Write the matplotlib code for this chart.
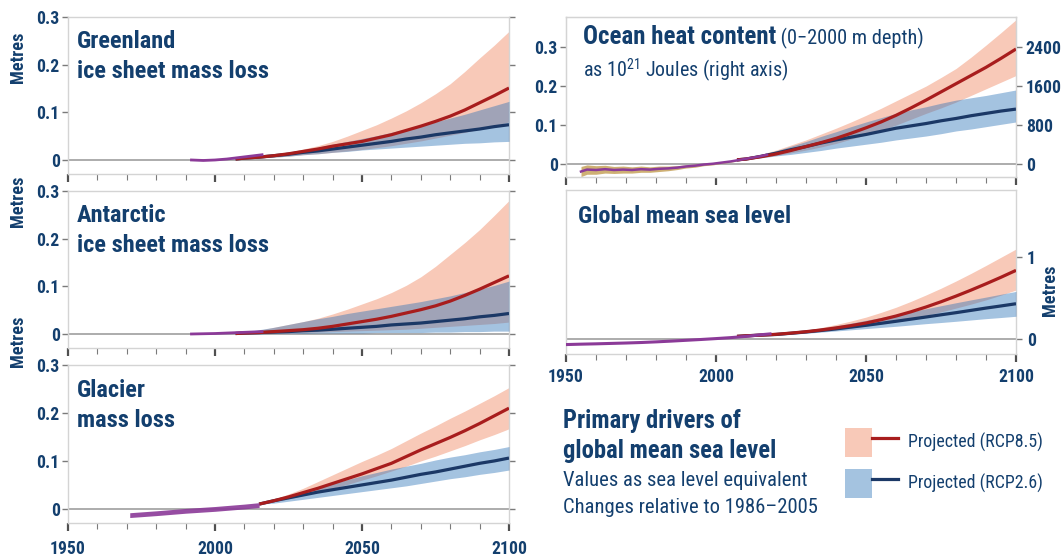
import matplotlib
matplotlib.use("Agg")
import matplotlib.pyplot as plt
from matplotlib import font_manager as fm
from matplotlib.patches import Patch
from matplotlib.lines import Line2D
from matplotlib.legend_handler import HandlerTuple
from matplotlib.ticker import MultipleLocator


# ---------------------------------------------------------------- fonts
def pick_font():
    """Prefer a narrow sans face; fall back to a regular one."""
    entries = fm.fontManager.ttflist
    names = {e.name for e in entries}
    for pref in ("Liberation Sans Narrow", "Arial Narrow", "Roboto Condensed",
                 "Noto Sans Condensed", "Open Sans Condensed", "DejaVu Sans Condensed"):
        if pref in names:
            return pref, "normal"
    for e in entries:
        n = e.name
        if ("Narrow" in n or "Condensed" in n) and not any(k in n for k in ("Extra", "Semi", "Mono", "Serif")):
            return n, "normal"
    for e in entries:
        if e.stretch == "condensed" and e.name in ("DejaVu Sans", "Noto Sans", "Open Sans", "Roboto"):
            return e.name, "condensed"
    return "Liberation Sans", "normal"


FONT, STRETCH = pick_font()
plt.rcParams["font.family"] = [FONT, "DejaVu Sans"]
plt.rcParams["font.stretch"] = STRETCH
plt.rcParams["mathtext.fontset"] = "custom"
plt.rcParams["mathtext.rm"] = FONT

# ---------------------------------------------------------------- data
XTICKS = [1950, 2000, 2050, 2100]
YTICKS_SMALL = [0, 0.1, 0.2, 0.3]
YTICK_LABELS_SMALL = ["0", "0.1", "0.2", "0.3"]
OHC_TICKS = [0, 800, 1600, 2400]           # 10^21 J
OHC_PER_METRE = 8000                          # 800 x 10^21 J  <->  0.1 m
GMSL_TICKS = [0, 1]

proj_years = [2007, 2010, 2015, 2020, 2025, 2030, 2035, 2040, 2045, 2050,
              2055, 2060, 2065, 2070, 2075, 2080, 2085, 2090, 2095, 2100]
glacier_proj_years = [2015, 2020, 2025, 2030, 2035, 2040, 2045, 2050, 2055,
                      2060, 2065, 2070, 2075, 2080, 2085, 2090, 2095, 2100]

# Greenland ice sheet (m sea level equivalent)
gr_obs_years = [1992, 1996, 2000, 2004, 2008, 2012, 2016]
gr_obs = [0.000, -0.001, 0.000, 0.002, 0.005, 0.008, 0.011]
gr85_med = [0.002, 0.004, 0.006, 0.009, 0.013, 0.018, 0.023, 0.029, 0.034, 0.039,
            0.046, 0.053, 0.062, 0.071, 0.081, 0.092, 0.105, 0.120, 0.135, 0.151]
gr85_lo = [0.002, 0.003, 0.004, 0.006, 0.008, 0.011, 0.013, 0.016, 0.019, 0.022,
           0.026, 0.030, 0.035, 0.040, 0.046, 0.052, 0.058, 0.065, 0.072, 0.080]
gr85_hi = [0.002, 0.005, 0.008, 0.011, 0.016, 0.023, 0.030, 0.039, 0.050, 0.062,
           0.074, 0.088, 0.103, 0.120, 0.139, 0.160, 0.186, 0.214, 0.241, 0.270]
gr26_med = [0.002, 0.004, 0.006, 0.009, 0.012, 0.016, 0.019, 0.023, 0.027, 0.031,
            0.035, 0.039, 0.044, 0.048, 0.053, 0.057, 0.061, 0.065, 0.070, 0.074]
gr26_lo = [0.002, 0.003, 0.004, 0.006, 0.008, 0.011, 0.013, 0.016, 0.018, 0.021,
           0.023, 0.025, 0.027, 0.029, 0.031, 0.033, 0.035, 0.036, 0.038, 0.039]
gr26_hi = [0.002, 0.005, 0.008, 0.012, 0.017, 0.022, 0.027, 0.033, 0.039, 0.045,
           0.051, 0.058, 0.065, 0.072, 0.080, 0.088, 0.096, 0.105, 0.114, 0.123]

# Antarctic ice sheet
an_obs_years = [1992, 1996, 2000, 2004, 2008, 2012, 2016]
an_obs = [0.000, 0.0005, 0.001, 0.002, 0.003, 0.004, 0.005]
an85_med = [0.001, 0.002, 0.003, 0.005, 0.007, 0.009, 0.012, 0.016, 0.021, 0.026,
            0.031, 0.037, 0.044, 0.051, 0.059, 0.069, 0.081, 0.094, 0.108, 0.122]
an85_lo = [0.000, 0.001, 0.001, 0.002, 0.002, 0.003, 0.004, 0.005, 0.006, 0.007,
           0.008, 0.009, 0.010, 0.012, 0.014, 0.016, 0.018, 0.020, 0.022, 0.025]
an85_hi = [0.001, 0.003, 0.008, 0.014, 0.020, 0.026, 0.033, 0.042, 0.052, 0.063,
           0.074, 0.087, 0.102, 0.120, 0.142, 0.167, 0.192, 0.219, 0.249, 0.280]
an26_med = [0.001, 0.002, 0.003, 0.004, 0.005, 0.007, 0.008, 0.010, 0.012, 0.014,
            0.016, 0.019, 0.021, 0.023, 0.026, 0.029, 0.032, 0.036, 0.039, 0.043]
an26_lo = [0.000, 0.000, 0.000, 0.001, 0.001, 0.001, 0.002, 0.002, 0.002, 0.002,
           0.003, 0.003, 0.003, 0.003, 0.004, 0.004, 0.005, 0.005, 0.006, 0.006]
an26_hi = [0.001, 0.004, 0.009, 0.014, 0.020, 0.026, 0.032, 0.037, 0.043, 0.048,
           0.053, 0.058, 0.063, 0.068, 0.074, 0.080, 0.087, 0.094, 0.102, 0.111]

# Glaciers
gl_obs_years = [1971, 1980, 1990, 2000, 2010, 2015]
gl_obs = [-0.013, -0.009, -0.004, 0.000, 0.005, 0.008]
gl_obs_halfwidth = 0.005
gl85_med = [0.010, 0.017, 0.025, 0.034, 0.043, 0.053, 0.063, 0.073, 0.084,
            0.095, 0.109, 0.123, 0.136, 0.149, 0.163, 0.178, 0.194, 0.210]
gl85_lo = [0.010, 0.015, 0.021, 0.028, 0.035, 0.043, 0.051, 0.060, 0.069,
           0.079, 0.089, 0.100, 0.110, 0.121, 0.132, 0.144, 0.155, 0.167]
gl85_hi = [0.010, 0.020, 0.031, 0.043, 0.057, 0.071, 0.085, 0.099, 0.112,
           0.126, 0.142, 0.158, 0.173, 0.189, 0.204, 0.220, 0.236, 0.253]
gl26_med = [0.010, 0.017, 0.023, 0.029, 0.035, 0.040, 0.045, 0.050, 0.055,
            0.060, 0.066, 0.072, 0.077, 0.083, 0.089, 0.095, 0.100, 0.106]
gl26_lo = [0.010, 0.012, 0.016, 0.020, 0.024, 0.028, 0.032, 0.036, 0.040,
           0.044, 0.048, 0.053, 0.058, 0.063, 0.067, 0.072, 0.076, 0.081]
gl26_hi = [0.010, 0.019, 0.028, 0.036, 0.045, 0.053, 0.061, 0.069, 0.076,
           0.083, 0.089, 0.095, 0.102, 0.108, 0.113, 0.119, 0.124, 0.130]

# Ocean heat content (expressed as m sea level equivalent on the left axis)
oh_obs_years = [1955, 1957, 1960, 1963, 1966, 1969, 1972, 1975, 1978, 1981, 1984,
                1987, 1990, 1993, 1996, 1999, 2002, 2005, 2008, 2011, 2014, 2017]
oh_obs = [-0.019, -0.014, -0.015, -0.013, -0.015, -0.014, -0.015, -0.013, -0.014, -0.012, -0.011,
          -0.009, -0.006, -0.004, -0.001, 0.001, 0.004, 0.007, 0.011, 0.015, 0.019, 0.024]
oh_obs_unc = [0.013, 0.012, 0.011, 0.010, 0.009, 0.009, 0.008, 0.008, 0.007, 0.007, 0.006,
              0.005, 0.004, 0.004, 0.003, 0.003, 0.002, 0.002, 0.002, 0.002, 0.002, 0.002]
oh85_med = [0.011, 0.013, 0.019, 0.026, 0.035, 0.045, 0.055, 0.066, 0.079, 0.093,
            0.108, 0.125, 0.144, 0.164, 0.185, 0.206, 0.227, 0.248, 0.271, 0.295]
oh85_lo = [0.011, 0.012, 0.017, 0.022, 0.029, 0.036, 0.044, 0.053, 0.064, 0.075,
           0.087, 0.100, 0.115, 0.130, 0.144, 0.159, 0.176, 0.193, 0.210, 0.227]
oh85_hi = [0.011, 0.015, 0.025, 0.036, 0.049, 0.062, 0.077, 0.092, 0.108, 0.125,
           0.143, 0.162, 0.181, 0.200, 0.222, 0.245, 0.274, 0.305, 0.337, 0.370]
oh26_med = [0.011, 0.013, 0.020, 0.028, 0.037, 0.045, 0.054, 0.062, 0.069, 0.076,
            0.084, 0.092, 0.098, 0.104, 0.111, 0.117, 0.124, 0.130, 0.136, 0.141]
oh26_lo = [0.011, 0.012, 0.016, 0.021, 0.025, 0.030, 0.035, 0.041, 0.046, 0.051,
           0.056, 0.062, 0.067, 0.072, 0.078, 0.085, 0.090, 0.096, 0.102, 0.108]
oh26_hi = [0.011, 0.015, 0.024, 0.034, 0.046, 0.058, 0.071, 0.083, 0.096, 0.108,
           0.119, 0.130, 0.139, 0.147, 0.156, 0.164, 0.170, 0.176, 0.183, 0.190]

# Global mean sea level (m)
sl_obs_years = [1950, 1955, 1960, 1965, 1970, 1975, 1980, 1985, 1990, 1995, 2000, 2005, 2010, 2015, 2018]
sl_obs = [-0.065, -0.060, -0.056, -0.051, -0.046, -0.040, -0.032, -0.023, -0.013, -0.003, 0.008,
          0.020, 0.035, 0.055, 0.065]
sl85_med = [0.035, 0.042, 0.050, 0.060, 0.075, 0.092, 0.113, 0.138, 0.166, 0.198,
            0.238, 0.283, 0.335, 0.393, 0.457, 0.526, 0.599, 0.676, 0.756, 0.840]
sl85_lo = [0.035, 0.041, 0.047, 0.053, 0.066, 0.081, 0.098, 0.117, 0.138, 0.160,
           0.189, 0.220, 0.253, 0.290, 0.333, 0.380, 0.428, 0.480, 0.538, 0.600]
sl85_hi = [0.035, 0.043, 0.054, 0.066, 0.086, 0.110, 0.142, 0.180, 0.222, 0.270,
           0.327, 0.390, 0.462, 0.540, 0.622, 0.710, 0.803, 0.900, 1.000, 1.100]
sl26_med = [0.035, 0.042, 0.050, 0.058, 0.073, 0.089, 0.107, 0.126, 0.148, 0.170,
            0.194, 0.219, 0.245, 0.271, 0.298, 0.324, 0.352, 0.380, 0.406, 0.433]
sl26_lo = [0.035, 0.041, 0.045, 0.050, 0.061, 0.073, 0.087, 0.101, 0.115, 0.130,
           0.144, 0.158, 0.174, 0.190, 0.204, 0.219, 0.235, 0.251, 0.265, 0.280]
sl26_hi = [0.035, 0.043, 0.054, 0.065, 0.086, 0.109, 0.135, 0.162, 0.196, 0.231,
           0.265, 0.300, 0.336, 0.372, 0.409, 0.445, 0.480, 0.514, 0.549, 0.583]

# ---------------------------------------------------------------- style
NAVY = "#133f6e"
RED_LINE = "#a81d1d"
RED_BAND = "#f8c9b8"
BLUE_LINE = "#1b3866"
BLUE_BAND = "#2870b7"
BLUE_ALPHA = 0.42
PURPLE = "#8b3a98"
TAN = "#c9a865"
SPINE = "#d4d4d4"
ZERO = "#a6a6a6"
TICK = "#7a7a7a"
TICK_DARK = "#505050"

W, H = 1061, 559
fig = plt.figure(figsize=(W / 100, H / 100), dpi=100)
_renderer = fig.canvas.get_renderer()


def text_width(s, size, **kw):
    t = fig.text(0, 0, s, fontsize=size, **kw)
    w = t.get_window_extent(_renderer).width
    t.remove()
    return w


def fitted_size(s, size, target_px, **kw):
    """Font size at which `s` spans about `target_px` pixels."""
    f = target_px / text_width(s, size, **kw)
    return size * min(1.25, max(0.78, f))


TITLE_FS = fitted_size("ice sheet mass loss", 18, 192, fontweight="bold")
TICK_FS = 13 * TITLE_FS / 18
LABEL_FS = 13.5 * TITLE_FS / 18


def rect(left, top, right, bottom):
    return [left / W, 1 - bottom / H, (right - left) / W, (bottom - top) / H]


def ftext(x, y, s, **kw):
    kw.setdefault("va", "baseline")
    kw.setdefault("color", NAVY)
    return fig.text(x / W, 1 - y / H, s, **kw)


def base_axes(r, ylim):
    ax = fig.add_axes(r)
    ax.set_xlim(1950, 2100)
    ax.set_ylim(*ylim)
    for s in ax.spines.values():
        s.set_color(SPINE)
        s.set_linewidth(1.0)
    ax.axhline(0, color=ZERO, lw=1.3, zorder=1)
    ax.set_xticks(XTICKS, [str(y) for y in XTICKS], fontweight="bold")
    ax.xaxis.set_minor_locator(MultipleLocator(10))
    ax.tick_params(axis="x", which="major", direction="out", length=6, width=1.6,
                   color=TICK_DARK, labelbottom=False, labelsize=TICK_FS, labelcolor=NAVY)
    ax.tick_params(axis="x", which="minor", direction="out", length=4, width=0.8, color=TICK)
    return ax


def draw_projection(ax, years, r_med, r_lo, r_hi, b_med, b_lo, b_hi):
    ax.fill_between(years, r_lo, r_hi, color=RED_BAND, lw=0, zorder=2)
    ax.fill_between(years, b_lo, b_hi, color=BLUE_BAND, alpha=BLUE_ALPHA, lw=0, zorder=3)
    ax.plot(years, b_med, color=BLUE_LINE, lw=2.3, zorder=5, solid_capstyle="butt")
    ax.plot(years, r_med, color=RED_LINE, lw=2.3, zorder=6, solid_capstyle="butt")


SMALL_YLIM = (-0.0294, 0.30)

# ---------------------------------------------------------------- left column
left_panels = [
    (rect(68, 17, 509, 174), gr_obs_years, gr_obs, proj_years,
     (gr85_med, gr85_lo, gr85_hi, gr26_med, gr26_lo, gr26_hi)),
    (rect(68, 191, 509, 348), an_obs_years, an_obs, proj_years,
     (an85_med, an85_lo, an85_hi, an26_med, an26_lo, an26_hi)),
    (rect(68, 365, 509, 523), gl_obs_years, gl_obs, glacier_proj_years,
     (gl85_med, gl85_lo, gl85_hi, gl26_med, gl26_lo, gl26_hi)),
]
left_axes = []
for r, oy, ov, py, series in left_panels:
    ax = base_axes(r, SMALL_YLIM)
    ax.set_yticks(YTICKS_SMALL, YTICK_LABELS_SMALL, fontweight="bold")
    ax.tick_params(axis="y", left=True, right=True, direction="out", length=4, width=1.0,
                   color=TICK, labelsize=TICK_FS, labelcolor=NAVY, pad=2)
    draw_projection(ax, py, *series)
    if oy is gl_obs_years:
        lo = [v - gl_obs_halfwidth for v in ov]
        hi = [v + gl_obs_halfwidth for v in ov]
        ax.fill_between(oy, lo, hi, color=PURPLE, alpha=0.9, lw=0, zorder=7)
    else:
        ax.plot(oy, ov, color=PURPLE, lw=2.0, zorder=7)
    left_axes.append(ax)

ax_gl = left_axes[2]
ax_gl.tick_params(axis="x", which="major", labelbottom=True, pad=6)

# ---------------------------------------------------------------- ocean heat content
ax_oh = base_axes(rect(566, 17, 1016, 177), (-0.033, 0.377))
ax_oh.set_yticks(YTICKS_SMALL, YTICK_LABELS_SMALL, fontweight="bold")
ax_oh.tick_params(axis="y", left=True, right=False, direction="out", length=4, width=1.0,
                  color=TICK, labelsize=TICK_FS, labelcolor=NAVY, pad=2)
oh_lo = [v - u for v, u in zip(oh_obs, oh_obs_unc)]
oh_hi = [v + u for v, u in zip(oh_obs, oh_obs_unc)]
ax_oh.fill_between(oh_obs_years, oh_lo, oh_hi, color=TAN, alpha=0.9, lw=0, zorder=2)
draw_projection(ax_oh, proj_years, oh85_med, oh85_lo, oh85_hi, oh26_med, oh26_lo, oh26_hi)
ax_oh.plot(oh_obs_years, oh_obs, color=PURPLE, lw=1.8, zorder=7)

ax_ohr = ax_oh.twinx()
lo_m, hi_m = ax_oh.get_ylim()
ax_ohr.set_ylim(lo_m * OHC_PER_METRE, hi_m * OHC_PER_METRE)
ax_ohr.set_yticks(OHC_TICKS, [str(v) for v in OHC_TICKS], fontweight="bold")
ax_ohr.tick_params(axis="y", direction="out", length=4, width=1.0, color=TICK,
                   labelsize=TICK_FS, labelcolor=NAVY, pad=3)
for s in ax_ohr.spines.values():
    s.set_color(SPINE)

# ---------------------------------------------------------------- global mean sea level
ax_sl = base_axes(rect(566, 190, 1016, 354), (-0.18, 1.82))
ax_sl.set_yticks(GMSL_TICKS, [str(v) for v in GMSL_TICKS], fontweight="bold")
ax_sl.yaxis.tick_right()
ax_sl.tick_params(axis="y", direction="out", length=4, width=1.0, color=TICK,
                  labelsize=TICK_FS, labelcolor=NAVY, pad=4)
draw_projection(ax_sl, proj_years, sl85_med, sl85_lo, sl85_hi, sl26_med, sl26_lo, sl26_hi)
ax_sl.plot(sl_obs_years, sl_obs, color=PURPLE, lw=2.2, zorder=7)
ax_sl.tick_params(axis="x", which="major", labelbottom=True, pad=4)

# ---------------------------------------------------------------- axis titles
for y in (57, 201, 341):
    ftext(18, y, "Metres", rotation=90, ha="center", va="center", fontsize=LABEL_FS, fontweight="bold")
ftext(1050, 290, "Metres", rotation=90, ha="center", va="center", fontsize=LABEL_FS, fontweight="bold")

# ---------------------------------------------------------------- panel titles
ftext(77, 48, "Greenland", fontsize=TITLE_FS, fontweight="bold")
ftext(77, 78, "ice sheet mass loss", fontsize=TITLE_FS, fontweight="bold")
ftext(77, 222, "Antarctic", fontsize=TITLE_FS, fontweight="bold")
ftext(77, 252, "ice sheet mass loss", fontsize=TITLE_FS, fontweight="bold")
ftext(77, 397, "Glacier", fontsize=TITLE_FS, fontweight="bold")
ftext(77, 427, "mass loss", fontsize=TITLE_FS, fontweight="bold")
ftext(578, 223, "Global mean sea level", fontsize=TITLE_FS, fontweight="bold")

OH_BOLD_FS = fitted_size("Ocean heat content", 17.5, 193, fontweight="bold")
OH_REG_FS = fitted_size(" (0\u22122000 m depth)", 16, 148)
OH_SUB_FS = fitted_size("as 10$^{\\mathrm{21}}$ Joules (right axis)", 16, 206)
t_oh = ftext(583, 49, "Ocean heat content", fontsize=OH_BOLD_FS, fontweight="bold", va="bottom")
ax_oh.annotate(" (0\u22122000 m depth)", xy=(1, 0), xycoords=t_oh, va="bottom", ha="left",
               fontsize=OH_REG_FS, color=NAVY, annotation_clip=False)
ftext(583, 77, "as 10$^{\\mathrm{21}}$ Joules (right axis)", fontsize=OH_SUB_FS)

# ---------------------------------------------------------------- description block
DRV_FS = fitted_size("global mean sea level", 18, 213, fontweight="bold")
NOTE_FS = fitted_size("Values as sea level equivalent Changes relative to 1986\u20132005", 15.6, 245 + 253 + 4)
ftext(563, 428, "Primary drivers of", fontsize=DRV_FS, fontweight="bold")
ftext(563, 458, "global mean sea level", fontsize=DRV_FS, fontweight="bold")
ftext(563, 486, "Values as sea level equivalent", fontsize=NOTE_FS)
ftext(563, 513, "Changes relative to 1986\u20132005", fontsize=NOTE_FS)

# ---------------------------------------------------------------- legend
LEG_FS = fitted_size("Projected (RCP8.5)", 13.4, 135)
fs_px = LEG_FS * 100 / 72
patch_h, patch_w, row_step = 29, 53, 41
leg_hh = (patch_h / fs_px - 0.245) / 0.65          # handle height giving a 29 px patch
handles = [
    (Patch(facecolor=RED_BAND, edgecolor="none"), Line2D([], [], color=RED_LINE, lw=2.3)),
    (Patch(facecolor=BLUE_BAND, alpha=BLUE_ALPHA, edgecolor="none"), Line2D([], [], color=BLUE_LINE, lw=2.3)),
]
fig.legend(handles, ["Projected (RCP8.5)", "Projected (RCP2.6)"],
           handler_map={tuple: HandlerTuple(ndivide=None, pad=0)},
           loc="upper left", bbox_to_anchor=(845 / W, 1 - 428 / H), frameon=False,
           fontsize=LEG_FS, labelcolor=NAVY, handlelength=patch_w / fs_px,
           handleheight=leg_hh, handletextpad=10 / fs_px,
           labelspacing=(row_step - patch_h) / fs_px, borderaxespad=0, borderpad=0)

fig.savefig("out.png", dpi=100)
